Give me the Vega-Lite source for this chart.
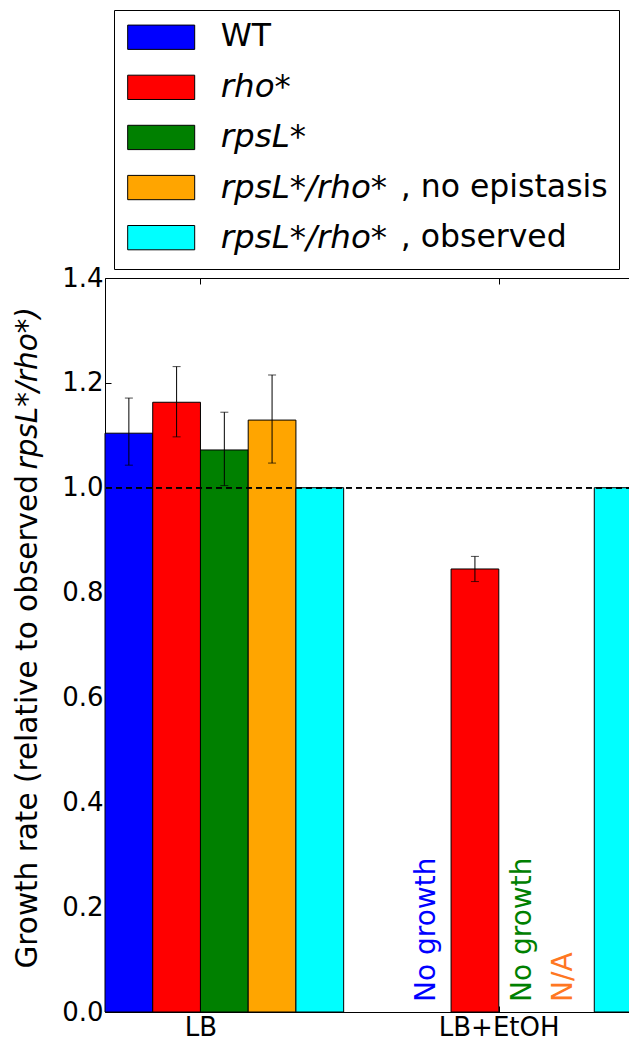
{
  "$schema": "https://vega.github.io/schema/vega-lite/v6.json",
  "padding": {"left": 11, "top": 9, "right": 0, "bottom": 0},
  "datasets": {
    "bars": [
      {"condition": "LB", "series": "WT", "value": 1.104, "lo": 1.043, "hi": 1.171},
      {"condition": "LB", "series": "rho", "value": 1.163, "lo": 1.097, "hi": 1.231},
      {"condition": "LB", "series": "rpsL", "value": 1.072, "lo": 1.004, "hi": 1.144},
      {"condition": "LB", "series": "nonepi", "value": 1.129, "lo": 1.047, "hi": 1.215},
      {"condition": "LB", "series": "obs", "value": 1.0},
      {"condition": "LB+EtOH", "series": "WT", "value": null, "note": "No growth"},
      {"condition": "LB+EtOH", "series": "rho", "value": 0.845, "lo": 0.821, "hi": 0.869},
      {"condition": "LB+EtOH", "series": "rpsL", "value": null, "note": "No growth"},
      {"condition": "LB+EtOH", "series": "nonepi", "value": null, "note": "N/A"},
      {"condition": "LB+EtOH", "series": "obs", "value": 1.0}
    ],
    "legend": [
      {"series": "WT", "main": "WT", "note": ""},
      {"series": "rho", "main": "rho*", "note": ""},
      {"series": "rpsL", "main": "rpsL*", "note": ""},
      {"series": "nonepi", "main": "rpsL*/rho*", "note": ", no epistasis"},
      {"series": "obs", "main": "rpsL*/rho*", "note": ", observed"}
    ]
  },
  "config": {
    "font": "DejaVu Sans",
    "view": {"stroke": "black", "strokeWidth": 1},
    "axis": {
      "grid": false,
      "domain": false,
      "labelFont": "DejaVu Sans",
      "labelColor": "black",
      "tickColor": "black",
      "titleFont": "DejaVu Sans",
      "titleColor": "black",
      "titleFontWeight": "normal"
    }
  },
  "spacing": -6,
  "vconcat": [
    {
      "spacing": 7,
      "hconcat": [
        {
          "width": 1,
          "height": 259,
          "data": {"values": []},
          "view": {"stroke": null},
          "mark": "point",
          "encoding": {}
        },
        {
          "width": 505,
          "height": 259,
          "data": {"name": "legend"},
          "view": {"stroke": "black", "strokeWidth": 1},
          "layer": [
            {
              "mark": {"type": "rect", "stroke": "black", "strokeWidth": 1},
              "encoding": {
                "x": {"datum": 2.71, "type": "quantitative", "scale": {"domain": [0, 100], "nice": false, "zero": false}, "axis": null},
                "x2": {"datum": 15.98},
                "y": {"field": "series", "type": "nominal", "sort": null, "scale": {"domain": ["WT", "rho", "rpsL", "nonepi", "obs"], "paddingInner": 0.515, "paddingOuter": 0.342, "align": 0.44}, "axis": null},
                "color": {"field": "series", "type": "nominal", "scale": {"domain": ["WT", "rho", "rpsL", "nonepi", "obs"], "range": ["#0000ff", "#ff0000", "#008000", "#ffa500", "#00ffff"]}, "legend": null}
              }
            },
            {
              "transform": [{"filter": "datum.series === 'WT'"}],
              "mark": {"type": "text", "align": "left", "baseline": "middle", "fontSize": 31.5, "font": "DejaVu Sans", "color": "black"},
              "encoding": {
                "x": {"datum": 21.13, "type": "quantitative"},
                "y": {"field": "series", "type": "nominal"},
                "text": {"field": "main"}
              }
            },
            {
              "transform": [{"filter": "datum.series !== 'WT'"}],
              "mark": {"type": "text", "align": "left", "baseline": "middle", "fontSize": 32.5, "font": "DejaVu Sans", "fontStyle": "italic", "color": "black"},
              "encoding": {
                "x": {"datum": 21.13, "type": "quantitative"},
                "y": {"field": "series", "type": "nominal"},
                "text": {"field": "main"}
              }
            },
            {
              "transform": [{"filter": "datum.note !== ''"}],
              "mark": {"type": "text", "align": "left", "baseline": "middle", "fontSize": 31.5, "font": "DejaVu Sans", "color": "black"},
              "encoding": {
                "x": {"datum": 56.77, "type": "quantitative"},
                "y": {"field": "series", "type": "nominal"},
                "text": {"field": "note"}
              }
            }
          ]
        }
      ]
    },
    {
      "width": 537,
      "height": 734,
      "data": {"name": "bars"},
      "layer": [
        {
          "transform": [{"filter": "isValid(datum.value)"}],
          "mark": {"type": "bar", "stroke": "black", "strokeWidth": 1},
          "encoding": {
            "x": {"field": "condition", "type": "nominal", "scale": {"domain": ["LB", "LB+EtOH"], "paddingInner": 0.2, "paddingOuter": 0},
                  "axis": {"orient": "bottom", "title": null, "labelAngle": 0, "labelFontSize": 26, "tickSize": -6, "tickOffset": -24, "labelPadding": 8}},
            "xOffset": {"field": "series", "type": "nominal", "scale": {"domain": ["WT", "rho", "rpsL", "nonepi", "obs"], "paddingInner": 0, "paddingOuter": 0}},
            "y": {"field": "value", "type": "quantitative", "scale": {"domain": [0, 1.4], "nice": false},
                  "axis": {"values": [0, 0.2, 0.4, 0.6, 0.8, 1.0, 1.2, 1.4], "format": ".1f", "labelFontSize": 26, "tickSize": -6, "labelPadding": 8,
                           "title": "Growth rate (relative to observed", "titleFontSize": 29.5, "titleAngle": -90, "titleAlign": "left", "titleBaseline": "alphabetic", "titleX": -69, "titleY": 690}},
            "color": {"field": "series", "type": "nominal", "scale": {"domain": ["WT", "rho", "rpsL", "nonepi", "obs"], "range": ["#0000ff", "#ff0000", "#008000", "#ffa500", "#00ffff"]}, "legend": null}
          }
        },
        {
          "mark": {"type": "rule", "strokeDash": [6, 4], "color": "black", "strokeWidth": 1},
          "encoding": {
            "y": {"datum": 1, "type": "quantitative", "scale": {"domain": [0, 1.4], "nice": false},
                  "axis": {"orient": "left", "labels": false, "ticks": false, "domain": false,
                           "title": "rpsL*/rho*)", "titleFontStyle": "italic", "titleFontSize": 29.5, "titleAngle": -90, "titleAlign": "left", "titleBaseline": "alphabetic", "titleX": -69, "titleY": 191}}
          }
        },
        {
          "transform": [{"filter": "isValid(datum.hi)"}],
          "mark": {"type": "rule", "color": "black", "strokeWidth": 1},
          "encoding": {
            "x": {"field": "condition", "type": "nominal", "axis": null},
            "xOffset": {"field": "series", "type": "nominal"},
            "y": {"field": "lo", "type": "quantitative", "axis": null},
            "y2": {"field": "hi"}
          }
        },
        {
          "transform": [{"filter": "isValid(datum.hi)"}],
          "mark": {"type": "tick", "orient": "horizontal", "size": 8, "thickness": 1, "color": "black"},
          "encoding": {
            "x": {"field": "condition", "type": "nominal", "axis": null},
            "xOffset": {"field": "series", "type": "nominal"},
            "y": {"field": "hi", "type": "quantitative", "axis": null}
          }
        },
        {
          "transform": [{"filter": "isValid(datum.lo)"}],
          "mark": {"type": "tick", "orient": "horizontal", "size": 8, "thickness": 1, "color": "black"},
          "encoding": {
            "x": {"field": "condition", "type": "nominal", "axis": null},
            "xOffset": {"field": "series", "type": "nominal"},
            "y": {"field": "lo", "type": "quantitative", "axis": null}
          }
        },
        {
          "transform": [{"filter": "datum.note === 'No growth'"}],
          "mark": {"type": "text", "angle": 270, "align": "left", "baseline": "middle", "fontSize": 28, "dx": 10, "font": "DejaVu Sans"},
          "encoding": {
            "x": {"field": "condition", "type": "nominal", "axis": {"orient": "top", "labels": false, "title": null, "tickSize": -6, "tickOffset": -24}},
            "xOffset": {"field": "series", "type": "nominal"},
            "y": {"datum": 0, "type": "quantitative", "axis": null},
            "text": {"field": "note"},
            "color": {"field": "series", "type": "nominal", "legend": null}
          }
        },
        {
          "transform": [{"filter": "datum.note === 'N/A'"}],
          "mark": {"type": "text", "angle": 270, "align": "left", "baseline": "middle", "fontSize": 28, "dx": 10, "dy": -6, "font": "DejaVu Sans", "color": "#ff7722"},
          "encoding": {
            "x": {"field": "condition", "type": "nominal", "axis": null},
            "xOffset": {"field": "series", "type": "nominal"},
            "y": {"datum": 0, "type": "quantitative", "axis": null},
            "text": {"field": "note"}
          }
        }
      ],
      "resolve": {"axis": {"x": "independent", "y": "independent"}}
    }
  ]
}
